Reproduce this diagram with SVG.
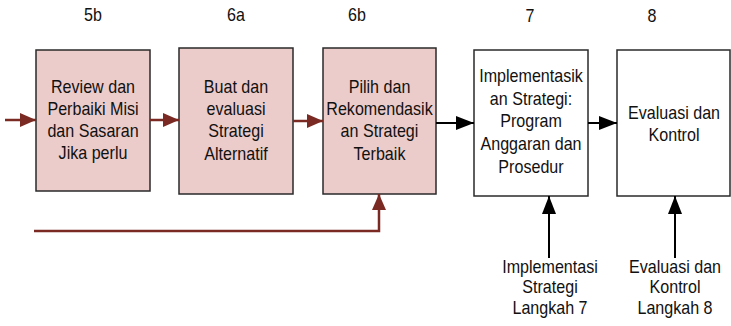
<svg xmlns="http://www.w3.org/2000/svg" width="731" height="326" viewBox="0 0 731 326">
  <style>
    .t { font-family: "Liberation Sans", Arial, sans-serif; font-size: 17.5px; fill: #111; text-anchor: middle; }
    .pink { fill: #ecccca; stroke: #2a2a2a; stroke-width: 1.5; }
    .white { fill: #ffffff; stroke: #2a2a2a; stroke-width: 1.5; }
    .brown { stroke: #7a2a23; stroke-width: 2.5; fill: none; }
    .black { stroke: #000; stroke-width: 2; fill: none; }
  </style>
  <defs>
    <marker id="ahBrown" viewBox="0 0 16 14" refX="16" refY="7" markerUnits="userSpaceOnUse" markerWidth="16" markerHeight="14" orient="auto">
      <path d="M0,0 L16,7 L0,14 Z" fill="#7a2a23"/>
    </marker>
    <marker id="ahBlack" viewBox="0 0 18 14" refX="18" refY="7" markerUnits="userSpaceOnUse" markerWidth="18" markerHeight="14" orient="auto">
      <path d="M0,0 L18,7 L0,14 Z" fill="#000"/>
    </marker>
  </defs>

  <!-- step numbers (text is slightly condensed horizontally) -->
  <text class="t" transform="translate(93,21) scale(0.92,1)">5b</text>
  <text class="t" transform="translate(236,21) scale(0.92,1)">6a</text>
  <text class="t" transform="translate(357,21) scale(0.92,1)">6b</text>
  <text class="t" transform="translate(530,22) scale(0.92,1)">7</text>
  <text class="t" transform="translate(652,22) scale(0.92,1)">8</text>

  <g id="node-5b">
    <rect class="pink" x="36" y="50" width="114" height="141"/>
    <text class="t" transform="translate(93,93) scale(0.92,1)">Review dan</text>
    <text class="t" transform="translate(93,115) scale(0.92,1)">Perbaiki Misi</text>
    <text class="t" transform="translate(93,137) scale(0.92,1)">dan Sasaran</text>
    <text class="t" transform="translate(93,159) scale(0.92,1)">Jika perlu</text>
  </g>

  <g id="node-6a">
    <rect class="pink" x="179" y="48" width="114" height="146"/>
    <text class="t" transform="translate(236,93) scale(0.92,1)">Buat dan</text>
    <text class="t" transform="translate(236,115) scale(0.92,1)">evaluasi</text>
    <text class="t" transform="translate(236,137) scale(0.92,1)">Strategi</text>
    <text class="t" transform="translate(236,160) scale(0.92,1)">Alternatif</text>
  </g>

  <g id="node-6b">
    <rect class="pink" x="323" y="48" width="113" height="146"/>
    <text class="t" transform="translate(379.5,93) scale(0.92,1)">Pilih dan</text>
    <text class="t" transform="translate(379.5,115) scale(0.92,1)">Rekomendasik</text>
    <text class="t" transform="translate(379.5,137) scale(0.92,1)">an Strategi</text>
    <text class="t" transform="translate(379.5,160) scale(0.92,1)">Terbaik</text>
  </g>

  <g id="node-7">
    <rect class="white" x="474" y="50" width="114" height="146"/>
    <text class="t" transform="translate(531,82) scale(0.92,1)">Implementasik</text>
    <text class="t" transform="translate(531,105) scale(0.92,1)">an Strategi:</text>
    <text class="t" transform="translate(531,127) scale(0.92,1)">Program</text>
    <text class="t" transform="translate(531,150) scale(0.92,1)">Anggaran dan</text>
    <text class="t" transform="translate(531,173) scale(0.92,1)">Prosedur</text>
  </g>

  <g id="node-8">
    <rect class="white" x="617" y="50" width="113" height="146"/>
    <text class="t" transform="translate(674,119) scale(0.92,1)">Evaluasi dan</text>
    <text class="t" transform="translate(674,141) scale(0.92,1)">Kontrol</text>
  </g>

  <g id="label-7">
    <text class="t" transform="translate(550,273) scale(0.92,1)">Implementasi</text>
    <text class="t" transform="translate(550,293) scale(0.92,1)">Strategi</text>
    <text class="t" transform="translate(550,314) scale(0.92,1)">Langkah 7</text>
  </g>

  <g id="label-8">
    <text class="t" transform="translate(675,273) scale(0.92,1)">Evaluasi dan</text>
    <text class="t" transform="translate(675,293) scale(0.92,1)">Kontrol</text>
    <text class="t" transform="translate(675,314) scale(0.92,1)">Langkah 8</text>
  </g>

  <g id="connectors">
    <line class="brown" x1="5" y1="120" x2="36" y2="120" marker-end="url(#ahBrown)"/>
    <line class="brown" x1="150" y1="120" x2="179" y2="120" marker-end="url(#ahBrown)"/>
    <line class="brown" x1="293" y1="121" x2="323" y2="121" marker-end="url(#ahBrown)"/>
    <polyline class="brown" points="34,231 379,231 379,194" marker-end="url(#ahBrown)"/>
    <line class="black" x1="436" y1="123" x2="474" y2="123" marker-end="url(#ahBlack)"/>
    <line class="black" x1="588" y1="123" x2="617" y2="123" marker-end="url(#ahBlack)"/>
    <line class="black" x1="549" y1="258" x2="549" y2="196" marker-end="url(#ahBlack)"/>
    <line class="black" x1="675" y1="258" x2="675" y2="196" marker-end="url(#ahBlack)"/>
  </g>
</svg>
